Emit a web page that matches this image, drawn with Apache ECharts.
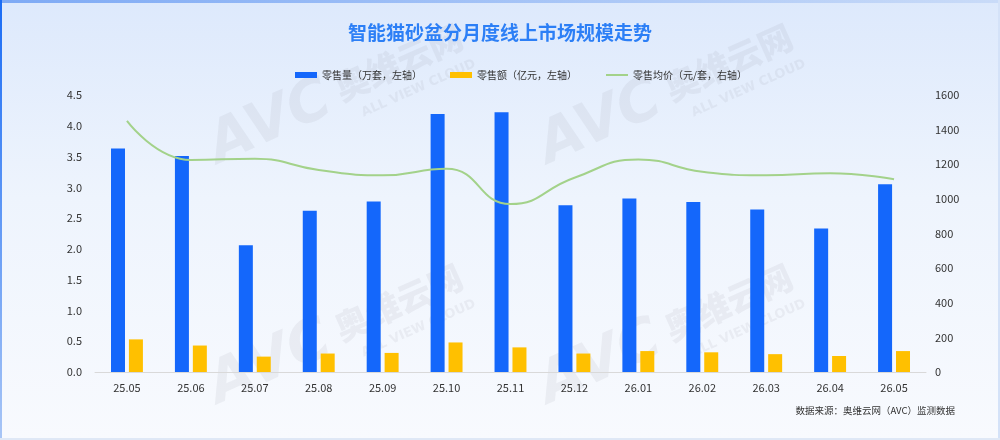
<!DOCTYPE html>
<html><head><meta charset="utf-8">
<script src="https://cdn.jsdelivr.net/npm/echarts@6/dist/echarts.min.js"></script>
<style>html,body{margin:0;padding:0;}#c{width:1000px;height:440px;}</style>
</head><body><div id="c"></div>
<script>
const categories = ['25.05','25.06','25.07','25.08','25.09','25.10','25.11','25.12','26.01','26.02','26.03','26.04','26.05'];
const salesVolume = [3.63,3.51,2.06,2.62,2.77,4.19,4.22,2.71,2.82,2.76,2.64,2.33,3.05];
const salesAmount = [0.53,0.43,0.25,0.30,0.31,0.48,0.40,0.30,0.34,0.32,0.29,0.26,0.34];
const avgPrice = [1450,1225,1232,1167,1136,1174,970,1122,1228,1157,1136,1148,1113];
const seriesNames = ['零售量（万套，左轴）','零售额（亿元，左轴）','零售均价（元/套，右轴）'];
const titleText = '智能猫砂盆分月度线上市场规模走势';
const sourceText = '数据来源：奥维云网（AVC）监测数据';

const chart = echarts.init(document.getElementById('c'));
const FONT = '"Noto Sans CJK SC", "Noto Sans", sans-serif';
function watermark(x, y) {
  const fill = 'rgba(120,120,130,0.09)';
  return {
    type: 'group', x: x, y: y, rotation: 0.42, silent: true, z: 1,
    children: [
      {type:'text', x: 0, y: 0, style:{text:'AVC', fill: fill, font:'italic 900 58px "DejaVu Sans", sans-serif', textVerticalAlign:'middle'}},
      {type:'text', x: 138, y: -4, style:{text:'奥维云网', fill: fill, font:'900 34px "Noto Sans CJK SC", sans-serif', textVerticalAlign:'middle'}},
      {type:'text', x: 152, y: 28, style:{text:'ALL VIEW CLOUD', fill: fill, font:'bold 13px "DejaVu Sans", sans-serif', textVerticalAlign:'middle'}}
    ]
  };
}
chart.setOption({
  animation: false,
  textStyle: {fontFamily: FONT},
  title: {
    text: titleText, left: 'center', top: 18,
    textStyle: {color: '#2c7ff6', fontSize: 19, fontWeight: 'bold', fontFamily: FONT}
  },
  legend: {
    top: 65, left: 290, itemWidth: 22, itemHeight: 6, itemGap: 28,
    textStyle: {fontSize: 10, color: '#333', fontFamily: FONT},
    data: [
      {name: seriesNames[0], icon: 'rect'},
      {name: seriesNames[1], icon: 'rect'},
      {name: seriesNames[2], itemStyle: {opacity: 0}}
    ]
  },
  grid: {left: 95, right: 74, top: 95, bottom: 68, containLabel: false},
  graphic: [
    {type:'rect', shape:{x:0,y:0,width:1000,height:440}, z:-10, silent:true,
     style:{fill:{type:'linear',x:0,y:0,x2:0,y2:1,colorStops:[{offset:0,color:'#dde9fc'},{offset:0.45,color:'#eef4fd'},{offset:1,color:'#f8fafe'}]}}},
    {type:'rect', shape:{x:0,y:0,width:1000,height:3}, z:-9, silent:true,
     style:{fill:{type:'linear',x:0,y:0,x2:1,y2:0,colorStops:[{offset:0,color:'#7eaaf5'},{offset:1,color:'#c9dbf8'}]}}},
    {type:'rect', shape:{x:0,y:0,width:2,height:440}, z:-9, silent:true,
     style:{fill:{type:'linear',x:0,y:0,x2:0,y2:1,colorStops:[{offset:0,color:'#1a6cf5'},{offset:1,color:'#a9c6f6'}]}}},
    {type:'rect', shape:{x:998,y:0,width:2,height:440}, z:-9, silent:true, style:{fill:'#d4e2f8'}},
    {type:'rect', shape:{x:0,y:438,width:1000,height:2}, z:-9, silent:true, style:{fill:'#dfe8f6'}},
    watermark(212, 150),
    watermark(542, 150),
    watermark(212, 390),
    watermark(542, 390),
    {type:'text', right: 45, top: 406, silent: true,
     style:{text: sourceText, fill:'#333', font:'9.5px "Noto Sans CJK SC", sans-serif'}}
  ],
  xAxis: {
    type: 'category', data: categories,
    axisLine: {lineStyle: {color: '#d9d9d9'}},
    axisTick: {show: false},
    axisLabel: {color: '#333', fontSize: 11, margin: 10}
  },
  yAxis: [
    {type: 'value', min: 0, max: 4.5, interval: 0.5,
     axisLine: {show: false}, axisTick: {show: false}, splitLine: {show: false},
     axisLabel: {color: '#333', fontSize: 11, margin: 13, formatter: v => v.toFixed(1)}},
    {type: 'value', min: 0, max: 1600, interval: 200,
     axisLine: {show: false}, axisTick: {show: false}, splitLine: {show: false},
     axisLabel: {color: '#333', fontSize: 11, margin: 9, formatter: v => String(v)}}
  ],
  series: [
    {name: seriesNames[0], type: 'bar', data: salesVolume, barWidth: 14, barGap: '28%',
     itemStyle: {color: '#1467fb'}, z: 3},
    {name: seriesNames[1], type: 'bar', data: salesAmount, barWidth: 14,
     itemStyle: {color: '#ffc000'}, z: 3},
    {name: seriesNames[2], type: 'line', yAxisIndex: 1, data: avgPrice, smooth: true,
     symbol: 'none', lineStyle: {color: '#a3d28a', width: 2}, itemStyle: {color: '#a3d28a'}, z: 4}
  ]
});
</script></body></html>
